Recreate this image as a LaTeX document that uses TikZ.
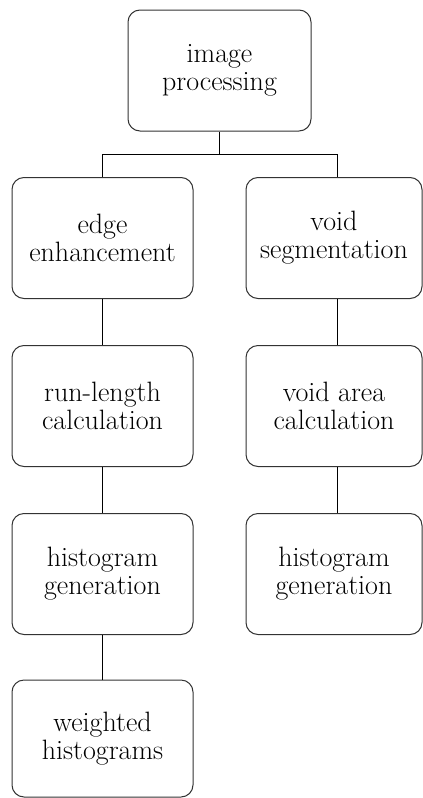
\documentclass[tikz,border=0pt]{standalone}
\begin{document}
\begin{tikzpicture}[x=1pt,y=-1pt,
  stepbox/.style={draw=black!80, line width=1pt, rounded corners=12pt,
    minimum width=181pt, minimum height=121pt, align=center, inner sep=0pt,
    font=\fontsize{28}{28}\selectfont},
  link/.style={draw=black, line width=1pt}]
\useasboundingbox (0,0) rectangle (423,798);
\node[stepbox, minimum width=183pt] (ip) at (219.5,70.5) {image\\processing};
\node[stepbox] (ee) at (102.5,238) {edge\\enhancement};
\node[stepbox] (rl) at (102.5,406) {run-length\\calculation};
\node[stepbox] (hl) at (102.5,574) {histogram\\generation};
\node[stepbox, minimum height=117pt] (wh) at (102.5,738.5) {weighted\\histograms};
\node[stepbox, minimum width=176pt] (vs) at (334,238) {void\\segmentation};
\node[stepbox, minimum width=176pt] (va) at (334,406) {void area\\calculation};
\node[stepbox, minimum width=176pt] (hr) at (334,574) {histogram\\generation};
\coordinate (bus) at (219.5,154);
\coordinate (busl) at (102.5,154);
\coordinate (busr) at (337,154);
\draw[link] (ip.south) -- (bus);
\draw[link] (busl) -- (busr);
\draw[link] (busl) -- (ee.north);
\draw[link] (busr) -- (busr |- vs.north);
\draw[link] (ee.south) -- (rl.north);
\draw[link] (rl.south) -- (hl.north);
\draw[link] (hl.south) -- (wh.north);
\draw[link] ([xshift=3pt]vs.south) -- ([xshift=3pt]va.north);
\draw[link] ([xshift=3pt]va.south) -- ([xshift=3pt]hr.north);
\end{tikzpicture}
\end{document}
